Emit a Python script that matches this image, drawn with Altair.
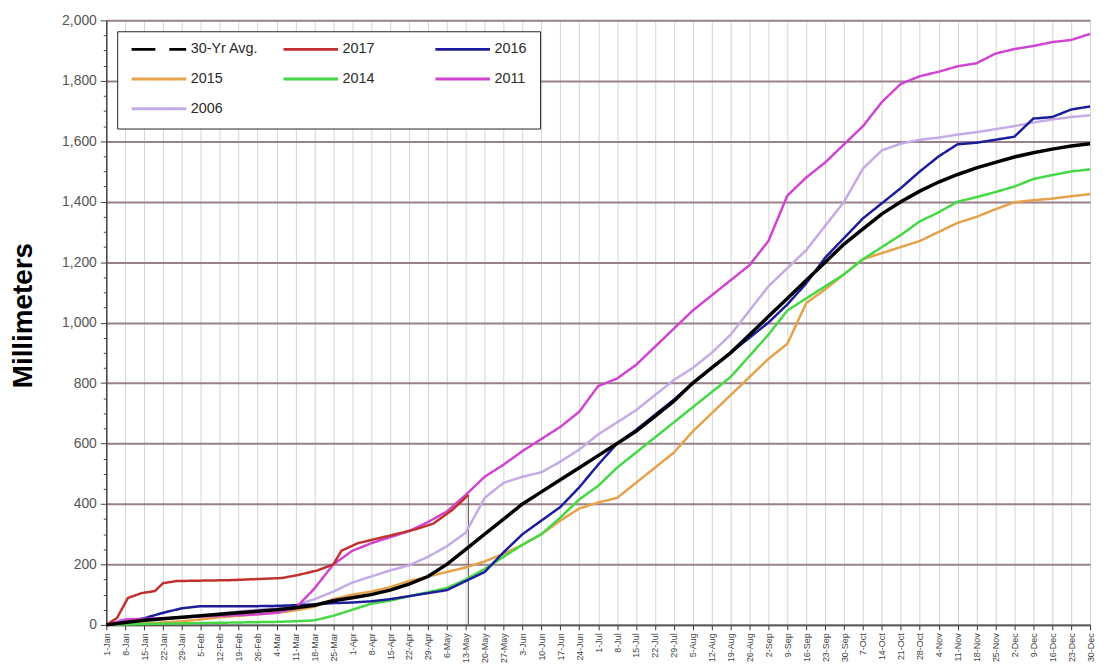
import json
import altair as alt
import pandas as pd

# ---------------- data ----------------
WEEK_LABELS = [
    "1-Jan", "8-Jan", "15-Jan", "22-Jan", "29-Jan",
    "5-Feb", "12-Feb", "19-Feb", "26-Feb",
    "4-Mar", "11-Mar", "18-Mar", "25-Mar",
    "1-Apr", "8-Apr", "15-Apr", "22-Apr", "29-Apr",
    "6-May", "13-May", "20-May", "27-May",
    "3-Jun", "10-Jun", "17-Jun", "24-Jun",
    "1-Jul", "8-Jul", "15-Jul", "22-Jul", "29-Jul",
    "5-Aug", "12-Aug", "19-Aug", "26-Aug",
    "2-Sep", "9-Sep", "16-Sep", "23-Sep", "30-Sep",
    "7-Oct", "14-Oct", "21-Oct", "28-Oct",
    "4-Nov", "11-Nov", "18-Nov", "25-Nov",
    "2-Dec", "9-Dec", "16-Dec", "23-Dec", "30-Dec",
]
WEEK_DAYS = list(range(0, 365, 7))  # day of year for each weekly label

SERIES = ["30-Yr Avg.", "2017", "2016", "2015", "2014", "2011", "2006"]
SERIES_COLORS = ["#000000", "#C0312F", "#1C1C9C", "#E5A24A", "#44D944", "#D045D0", "#C4ABE6"]
SERIES_DASH = [[24, 14], [1, 0], [1, 0], [1, 0], [1, 0], [1, 0], [1, 0]]

AVG_30YR = [0, 8, 15, 20, 25, 30, 35, 40, 45, 50, 57, 65, 80, 90, 100, 115, 135, 160,
            200, 250, 300, 350, 400, 440, 480, 520, 560, 600, 640, 690, 740, 800, 850,
            900, 960, 1020, 1080, 1140, 1200, 1260, 1310, 1360, 1400, 1435, 1465, 1490,
            1512, 1530, 1548, 1562, 1574, 1584, 1592]
Y2016 = [0, 10, 22, 40, 55, 62, 62, 62, 62, 63, 65, 68, 72, 74, 78, 85, 95, 105,
         115, 145, 175, 240, 300, 345, 390, 455, 530, 600, 645, 695, 745, 800, 850,
         900, 950, 1000, 1060, 1130, 1215, 1280, 1345, 1395, 1445, 1500, 1550, 1590,
         1595, 1605, 1615, 1675, 1680, 1705, 1715]
Y2015 = [0, 3, 5, 8, 12, 18, 25, 30, 35, 40, 48, 60, 85, 100, 110, 125, 145, 160,
         175, 190, 210, 235, 265, 300, 345, 385, 405, 420, 470, 520, 570, 640, 700,
         760, 820, 880, 930, 1065, 1110, 1160, 1210, 1230, 1250, 1270, 1300, 1330,
         1350, 1375, 1398, 1405, 1410, 1418, 1425]
Y2014 = [0, 2, 3, 4, 5, 6, 7, 8, 9, 10, 12, 15, 30, 50, 70, 80, 95, 108,
         122, 150, 185, 225, 265, 300, 355, 415, 460, 520, 570, 620, 670, 720, 770,
         820, 890, 960, 1040, 1080, 1120, 1160, 1210, 1250, 1290, 1335, 1365, 1400,
         1415, 1432, 1450, 1475, 1488, 1500, 1507]
Y2011 = [0, 18, 20, 22, 25, 28, 30, 32, 35, 40, 55, 120, 200, 245, 270, 290, 310, 340,
         375, 430, 490, 530, 575, 615, 655, 705, 790, 815, 860, 920, 980, 1040, 1090,
         1140, 1190, 1270, 1420, 1480, 1530, 1590, 1650, 1730, 1790, 1815, 1830, 1848,
         1858, 1890, 1905, 1915, 1928, 1935, 1955]
Y2006 = [0, 10, 15, 20, 25, 30, 38, 45, 50, 55, 65, 85, 110, 140, 160, 180, 197, 225,
         260, 305, 420, 470, 490, 505, 540, 580, 630, 670, 710, 760, 810, 850, 900,
         960, 1040, 1120, 1180, 1240, 1320, 1400, 1510, 1570, 1592, 1605, 1612, 1622,
         1630, 1640, 1650, 1662, 1672, 1680, 1686]
Y2017_DAYS = [0, 4, 8, 13, 18, 21, 26, 46, 65, 71, 78, 84, 87, 93, 100, 107, 114, 121, 128, 134]
Y2017 = [0, 23, 89, 105, 112, 138, 145, 148, 155, 165, 180, 200, 245, 270, 285, 300, 315, 335, 380, 430]

Y_MAJOR = [0, 200, 400, 600, 800, 1000, 1200, 1400, 1600, 1800, 2000]
Y_MINOR = list(range(0, 2001, 50))

# ---------------- tables ----------------
rows = []


def add(name, days, vals):
    for d, v in zip(days, vals):
        rows.append({"series": name, "day": d, "mm": v})


add("2006", WEEK_DAYS, Y2006)
add("2015", WEEK_DAYS, Y2015)
add("2014", WEEK_DAYS, Y2014)
add("2016", WEEK_DAYS, Y2016)
add("2011", WEEK_DAYS, Y2011)
add("2017", Y2017_DAYS, Y2017)
years_df = pd.DataFrame(rows)
avg_df = pd.DataFrame({"series": ["30-Yr Avg."] * len(WEEK_DAYS), "day": WEEK_DAYS, "mm": AVG_30YR})
marker_df = pd.DataFrame({"day": [Y2017_DAYS[-1]], "mm": [Y2017[-1]], "base": [0]})

FONT = "Liberation Sans"
major_test = "indexof(%s, datum.value) >= 0" % json.dumps(Y_MAJOR)

x_enc = alt.X(
    "day:Q",
    scale=alt.Scale(domain=[0, 364], nice=False, zero=False),
    axis=alt.Axis(
        values=WEEK_DAYS,
        labelExpr=json.dumps(WEEK_LABELS) + "[round(datum.value / 7)]",
        labelAngle=270,
        labelFontSize=9,
        labelFont=FONT,
        labelColor="#444444",
        labelOverlap=False,
        labelFlush=False,
        labelPadding=3,
        tickSize=5,
        tickColor="#333333",
        domainColor="#555555",
        domainWidth=2,
        grid=True,
        gridColor="#d4d4d4",
        gridWidth=1,
        title=None,
    ),
)

y_enc = alt.Y(
    "mm:Q",
    scale=alt.Scale(domain=[0, 2000], nice=False),
    axis=alt.Axis(
        values=Y_MINOR,
        labelExpr="%s ? format(datum.value, ',') : ''" % major_test,
        labelFontSize=14,
        labelFont=FONT,
        labelColor="#555555",
        labelOverlap=False,
        labelPadding=4,
        tickColor="#444444",
        tickSize={"condition": {"test": major_test, "value": 6}, "value": 3},
        domainColor="#444444",
        domainWidth=1.5,
        grid=True,
        gridColor={"condition": {"test": major_test, "value": "#9A8088"}, "value": "transparent"},
        gridWidth=2,
        title="Millimeters",
        titleFont=FONT,
        titleFontSize=28,
        titleFontWeight="bold",
        titleColor="#000000",
        titlePadding=24,
        titleY=297,
    ),
)

legend = alt.Legend(
    title=None,
    orient="none",
    direction="horizontal",
    legendX=11,
    legendY=11,
    columns=3,
    gridAlign="all",
    symbolType="stroke",
    symbolSize=3025,
    symbolStrokeWidth=3,
    clipHeight=10,
    rowPadding=15,
    columnPadding=23,
    labelOffset=3,
    labelFont=FONT,
    labelFontSize=14.5,
    labelColor="#2a2a2a",
    padding=13,
    strokeColor="#222222",
    fillColor="white",
)

color_enc = alt.Color("series:N", scale=alt.Scale(domain=SERIES, range=SERIES_COLORS), legend=legend)
dash_enc = alt.StrokeDash("series:N", scale=alt.Scale(domain=SERIES, range=SERIES_DASH), legend=legend)

years = alt.Chart(years_df).mark_line(strokeWidth=2.5).encode(
    x=x_enc, y=y_enc, color=color_enc, strokeDash=dash_enc, order="day:Q"
)
avg = alt.Chart(avg_df).mark_line(strokeWidth=3.5).encode(
    x=x_enc, y=y_enc, color=color_enc, order="day:Q"
)
marker = alt.Chart(marker_df).mark_rule(color="#666666", strokeWidth=1.2).encode(
    x=x_enc, y=y_enc, y2=alt.Y2("base:Q")
)

chart = (
    alt.layer(marker, years, avg)
    .properties(
        width=991,
        height=609,
        autosize=alt.AutoSizeParams(type="none"),
        padding={"left": 99, "top": 10, "right": 5, "bottom": 40},
    )
    .configure_view(stroke="#666666", strokeWidth=1.5)
    .configure(background="white")
)

chart.save("out.html", embed_options={"renderer": "svg", "actions": False})
